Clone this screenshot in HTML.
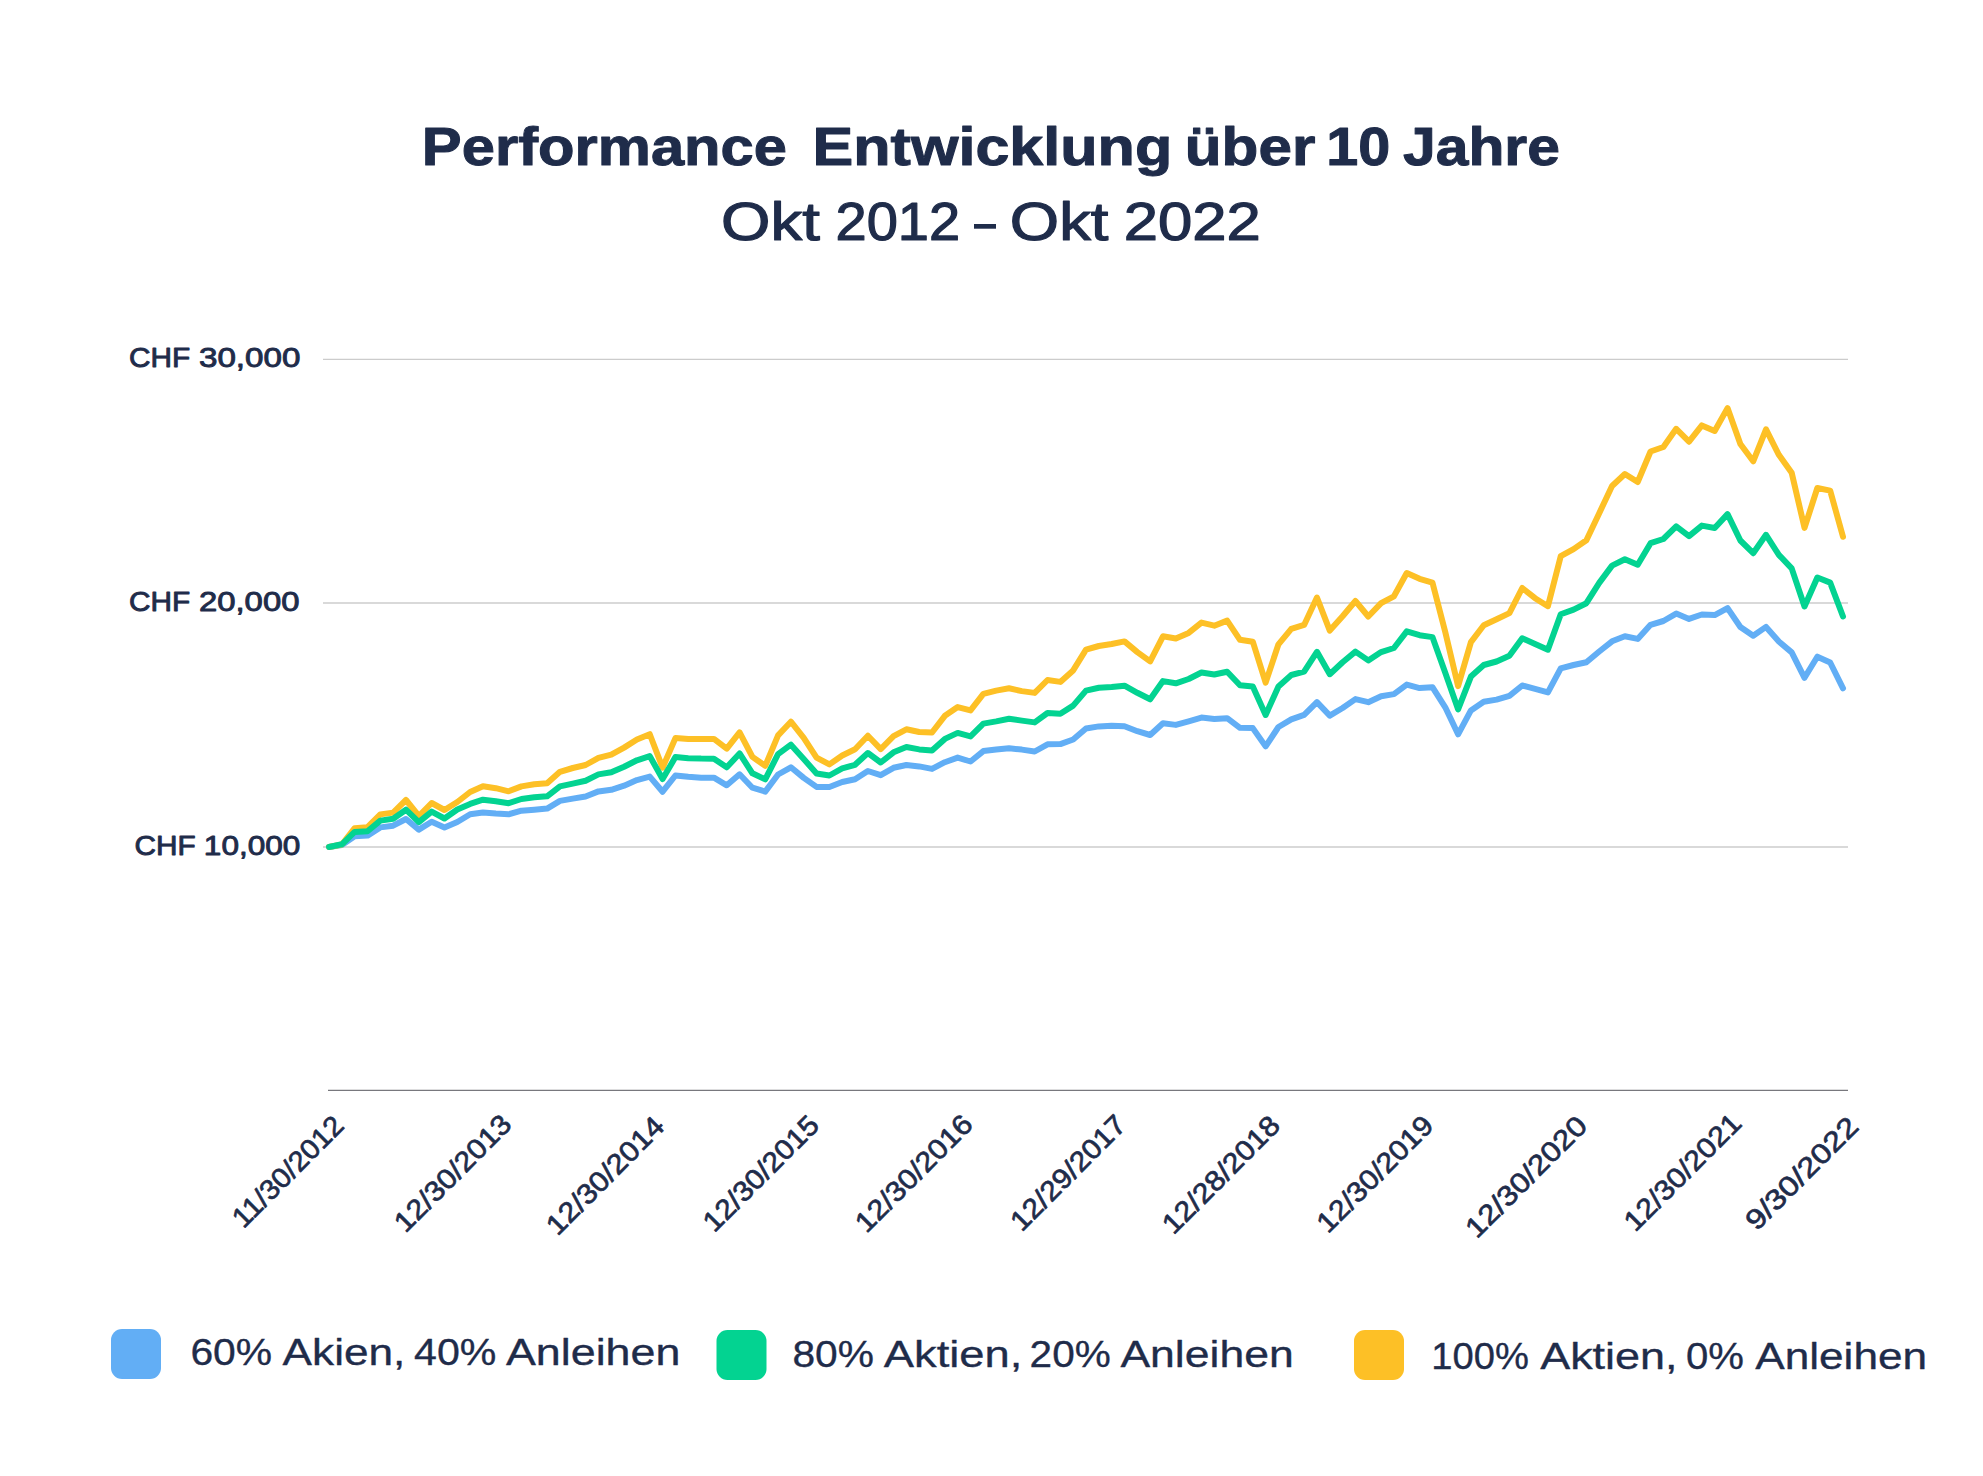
<!DOCTYPE html><html><head><meta charset="utf-8"><title>Performance Entwicklung</title>
<style>html,body{margin:0;padding:0;background:#fff;}svg{display:block;}text{font-family:"Liberation Sans",sans-serif;}</style></head><body>
<svg width="1983" height="1476" viewBox="0 0 1983 1476">
<rect width="1983" height="1476" fill="#ffffff"/>
<line x1="323" y1="359.4" x2="1848" y2="359.4" stroke="#cccccc" stroke-width="1.3"/>
<line x1="323" y1="603" x2="1848" y2="603" stroke="#cccccc" stroke-width="1.3"/>
<line x1="323" y1="847" x2="1848" y2="847" stroke="#cccccc" stroke-width="1.3"/>
<line x1="328" y1="1090.4" x2="1848" y2="1090.4" stroke="#78787d" stroke-width="1.3"/>
<polyline points="329,847 341.83,845 354.66,836.3 367.49,835.6 380.32,827.4 393.15,825.7 405.98,819 418.81,829.6 431.64,821.7 444.47,827.4 457.31,822 470.14,814.3 482.97,812.5 495.8,813.6 508.63,814.3 521.46,810.7 534.29,809.7 547.12,808.6 559.95,800.9 572.78,798.6 585.61,796.5 598.44,791.4 611.27,789.8 624.1,785.7 636.93,780.1 649.76,776.6 662.59,791.7 675.42,775.5 688.25,776.8 701.08,777.8 713.92,777.7 726.75,785.3 739.58,774.3 752.41,787.7 765.24,791.6 778.07,774.5 790.9,767.3 803.73,777.9 816.56,786.9 829.39,787 842.22,782 855.05,779.3 867.88,771 880.71,775.2 893.54,767.8 906.37,765 919.2,766.4 932.03,768.9 944.86,762.2 957.69,757.6 970.53,761.5 983.36,751.1 996.19,749.6 1009.02,748.2 1021.85,749.6 1034.68,751.5 1047.51,744.3 1060.34,744.1 1073.17,739.5 1086,728.5 1098.83,726.4 1111.66,725.7 1124.49,726.3 1137.32,731.2 1150.15,735 1162.98,723.2 1175.81,724.9 1188.64,721.3 1201.47,717.6 1214.31,719 1227.14,718.2 1239.97,727.8 1252.8,728.1 1265.63,746.4 1278.46,727 1291.29,719.4 1304.12,714.9 1316.95,702.1 1329.78,715.6 1342.61,708 1355.44,699.1 1368.27,702.2 1381.1,696.2 1393.93,694.1 1406.76,684.6 1419.59,688.1 1432.42,687.2 1445.25,707.3 1458.08,734.3 1470.92,710.4 1483.75,701.8 1496.58,699.6 1509.41,695.8 1522.24,685.5 1535.07,688.9 1547.9,692.4 1560.73,668.3 1573.56,665 1586.39,662.2 1599.22,651.5 1612.05,641.3 1624.88,636.3 1637.71,638.9 1650.54,624.8 1663.37,621 1676.2,613.6 1689.03,618.9 1701.86,614.5 1714.69,615.1 1727.53,608.1 1740.36,627 1753.19,635.8 1766.02,626.9 1778.85,641.5 1791.68,652.4 1804.51,677.8 1817.34,656.7 1830.17,662.5 1843,688.3" fill="none" stroke="#62aef5" stroke-width="6" stroke-linejoin="round" stroke-linecap="round"/>
<polyline points="329,847 341.83,844.5 354.66,828.2 367.49,827.2 380.32,814.4 393.15,812.6 405.98,800 418.81,816 431.64,803 444.47,810 457.31,802 470.14,792 482.97,786.3 495.8,788.2 508.63,791.3 521.46,786.4 534.29,784.3 547.12,783.2 559.95,771.8 572.78,768 585.61,765 598.44,757.9 611.27,754.7 624.1,747.6 636.93,739.5 649.76,734.2 662.59,767.7 675.42,738.1 688.25,739.1 701.08,739.1 713.92,738.9 726.75,748.6 739.58,732.3 752.41,756.9 765.24,765.9 778.07,735.4 790.9,721.7 803.73,737.8 816.56,757.6 829.39,764.4 842.22,755.5 855.05,749.3 867.88,735.7 880.71,749.1 893.54,736.2 906.37,729.3 919.2,732 932.03,732.5 944.86,715.8 957.69,707.1 970.53,710.4 983.36,693.9 996.19,690.6 1009.02,688.3 1021.85,691.1 1034.68,692.9 1047.51,680 1060.34,681.9 1073.17,670.4 1086,649.7 1098.83,646 1111.66,644 1124.49,641.4 1137.32,652.1 1150.15,661.4 1162.98,636.3 1175.81,638.5 1188.64,632.9 1201.47,622.6 1214.31,625.7 1227.14,620.6 1239.97,639.8 1252.8,641.7 1265.63,682.6 1278.46,644.3 1291.29,628.8 1304.12,624.9 1316.95,597.5 1329.78,630.6 1342.61,616.3 1355.44,601 1368.27,616.5 1381.1,603.2 1393.93,596.3 1406.76,573 1419.59,578.8 1432.42,582.6 1445.25,632 1458.08,686.1 1470.92,642.1 1483.75,625.2 1496.58,619.2 1509.41,613.1 1522.24,588 1535.07,598.2 1547.9,606.2 1560.73,556.2 1573.56,549.1 1586.39,540.2 1599.22,513.2 1612.05,486 1624.88,474 1637.71,482 1650.54,451.5 1663.37,447 1676.2,428.8 1689.03,441.7 1701.86,425.4 1714.69,431 1727.53,408.1 1740.36,444 1753.19,461.3 1766.02,429.3 1778.85,454.8 1791.68,472.7 1804.51,527.9 1817.34,488 1830.17,490.6 1843,536.8" fill="none" stroke="#fdc026" stroke-width="6" stroke-linejoin="round" stroke-linecap="round"/>
<polyline points="329,847 341.83,844.3 354.66,831.9 367.49,831.2 380.32,820.6 393.15,818.8 405.98,809.7 418.81,822.1 431.64,811.6 444.47,818.5 457.31,809.5 470.14,803.9 482.97,799.7 495.8,801.2 508.63,803.2 521.46,799 534.29,797.3 547.12,796.3 559.95,786.4 572.78,783.6 585.61,780.7 598.44,774.4 611.27,772.3 624.1,766.7 636.93,760.3 649.76,756.1 662.59,779 675.42,757.1 688.25,758.2 701.08,758.6 713.92,758.7 726.75,767.3 739.58,753.5 752.41,773.3 765.24,779.3 778.07,754.1 790.9,744.7 803.73,759 816.56,773.5 829.39,775.5 842.22,768.4 855.05,764.8 867.88,753 880.71,762.5 893.54,752.3 906.37,747 919.2,749.4 932.03,750.5 944.86,738.9 957.69,732.9 970.53,736.4 983.36,723.6 996.19,721.4 1009.02,718.7 1021.85,720.6 1034.68,722.4 1047.51,713 1060.34,713.7 1073.17,705.6 1086,690.6 1098.83,687.7 1111.66,687 1124.49,685.7 1137.32,692.8 1150.15,699.3 1162.98,681.1 1175.81,683.3 1188.64,679 1201.47,672.5 1214.31,674.5 1227.14,671.7 1239.97,685.3 1252.8,686.4 1265.63,715 1278.46,686.4 1291.29,675 1304.12,671.7 1316.95,651.8 1329.78,674.2 1342.61,662.2 1355.44,651.6 1368.27,660.4 1381.1,652.1 1393.93,648 1406.76,631.3 1419.59,635.2 1432.42,637.1 1445.25,672.8 1458.08,709.3 1470.92,676.6 1483.75,665 1496.58,661.5 1509.41,655.8 1522.24,638.3 1535.07,643.9 1547.9,649.7 1560.73,614.2 1573.56,609.6 1586.39,603.2 1599.22,582.9 1612.05,565.6 1624.88,559.2 1637.71,564.7 1650.54,543.2 1663.37,539 1676.2,526.4 1689.03,536.1 1701.86,525.6 1714.69,528 1727.53,514.1 1740.36,540.5 1753.19,553.2 1766.02,534.8 1778.85,554.9 1791.68,568.4 1804.51,606.5 1817.34,577.5 1830.17,582.6 1843,616.5" fill="none" stroke="#03d391" stroke-width="6" stroke-linejoin="round" stroke-linecap="round"/>
<rect x="111" y="1329" width="50" height="50" rx="11" fill="#62aef5"/>
<rect x="716.5" y="1330" width="50" height="50" rx="11" fill="#03d391"/>
<rect x="1354" y="1330" width="50" height="50" rx="11" fill="#fdc026"/>
<rect x="974" y="224" width="22" height="4.7" fill="#1f2c4a"/>
<text x="421.85" y="164.9" font-size="53.6" font-weight="700" fill="#1f2c4a" stroke="#1f2c4a" stroke-width="1.0" stroke-linejoin="round" textLength="365.21" lengthAdjust="spacingAndGlyphs">Performance</text>
<text x="812.58" y="164.9" font-size="53.6" font-weight="700" fill="#1f2c4a" stroke="#1f2c4a" stroke-width="1.0" stroke-linejoin="round" textLength="359.61" lengthAdjust="spacingAndGlyphs">Entwicklung</text>
<text x="1184.83" y="164.9" font-size="53.6" font-weight="700" fill="#1f2c4a" stroke="#1f2c4a" stroke-width="1.0" stroke-linejoin="round" textLength="130.53" lengthAdjust="spacingAndGlyphs">über</text>
<text x="1326.16" y="164.9" font-size="53.6" font-weight="700" fill="#1f2c4a" stroke="#1f2c4a" stroke-width="1.0" stroke-linejoin="round" textLength="63.99" lengthAdjust="spacingAndGlyphs">10</text>
<text x="1403" y="164.9" font-size="53.6" font-weight="700" fill="#1f2c4a" stroke="#1f2c4a" stroke-width="1.0" stroke-linejoin="round" textLength="156.92" lengthAdjust="spacingAndGlyphs">Jahre</text>
<text x="721.02" y="240.2" font-size="53.5" font-weight="400" fill="#1f2c4a" stroke="#1f2c4a" stroke-width="1.2" stroke-linejoin="round" textLength="98.86" lengthAdjust="spacingAndGlyphs">Okt</text>
<text x="835.5" y="240.2" font-size="53.5" font-weight="400" fill="#1f2c4a" stroke="#1f2c4a" stroke-width="1.2" stroke-linejoin="round" textLength="124.63" lengthAdjust="spacingAndGlyphs">2012</text>
<text x="1009.82" y="240.2" font-size="53.5" font-weight="400" fill="#1f2c4a" stroke="#1f2c4a" stroke-width="1.2" stroke-linejoin="round" textLength="98.67" lengthAdjust="spacingAndGlyphs">Okt</text>
<text x="1123.69" y="240.2" font-size="53.5" font-weight="400" fill="#1f2c4a" stroke="#1f2c4a" stroke-width="1.2" stroke-linejoin="round" textLength="137.05" lengthAdjust="spacingAndGlyphs">2022</text>
<text x="129.09" y="367.45" font-size="27.3" font-weight="400" fill="#1f2c4a" stroke="#1f2c4a" stroke-width="0.9" stroke-linejoin="round" textLength="61.24" lengthAdjust="spacingAndGlyphs">CHF</text>
<text x="198.98" y="367.45" font-size="27.3" font-weight="400" fill="#1f2c4a" stroke="#1f2c4a" stroke-width="0.9" stroke-linejoin="round" textLength="101.43" lengthAdjust="spacingAndGlyphs">30,000</text>
<text x="129.09" y="611.45" font-size="27.3" font-weight="400" fill="#1f2c4a" stroke="#1f2c4a" stroke-width="0.9" stroke-linejoin="round" textLength="61.24" lengthAdjust="spacingAndGlyphs">CHF</text>
<text x="198.99" y="611.45" font-size="27.3" font-weight="400" fill="#1f2c4a" stroke="#1f2c4a" stroke-width="0.9" stroke-linejoin="round" textLength="100.42" lengthAdjust="spacingAndGlyphs">20,000</text>
<text x="134.5" y="855.45" font-size="27.3" font-weight="400" fill="#1f2c4a" stroke="#1f2c4a" stroke-width="0.9" stroke-linejoin="round" textLength="61.22" lengthAdjust="spacingAndGlyphs">CHF</text>
<text x="203.88" y="855.45" font-size="27.3" font-weight="400" fill="#1f2c4a" stroke="#1f2c4a" stroke-width="0.9" stroke-linejoin="round" textLength="96.5" lengthAdjust="spacingAndGlyphs">10,000</text>
<text x="190.41" y="1364.62" font-size="37.5" font-weight="400" fill="#1f2c4a" stroke="#1f2c4a" stroke-width="0.35" stroke-linejoin="round" textLength="81.76" lengthAdjust="spacingAndGlyphs">60%</text>
<text x="282.6" y="1364.62" font-size="37.5" font-weight="400" fill="#1f2c4a" stroke="#1f2c4a" stroke-width="0.35" stroke-linejoin="round" textLength="122.81" lengthAdjust="spacingAndGlyphs">Akien,</text>
<text x="414.1" y="1364.62" font-size="37.5" font-weight="400" fill="#1f2c4a" stroke="#1f2c4a" stroke-width="0.35" stroke-linejoin="round" textLength="82.29" lengthAdjust="spacingAndGlyphs">40%</text>
<text x="505.99" y="1364.62" font-size="37.5" font-weight="400" fill="#1f2c4a" stroke="#1f2c4a" stroke-width="0.35" stroke-linejoin="round" textLength="174.37" lengthAdjust="spacingAndGlyphs">Anleihen</text>
<text x="792.42" y="1366.62" font-size="37.5" font-weight="400" fill="#1f2c4a" stroke="#1f2c4a" stroke-width="0.35" stroke-linejoin="round" textLength="81.53" lengthAdjust="spacingAndGlyphs">80%</text>
<text x="883.8" y="1366.62" font-size="37.5" font-weight="400" fill="#1f2c4a" stroke="#1f2c4a" stroke-width="0.35" stroke-linejoin="round" textLength="138.62" lengthAdjust="spacingAndGlyphs">Aktien,</text>
<text x="1029.63" y="1366.62" font-size="37.5" font-weight="400" fill="#1f2c4a" stroke="#1f2c4a" stroke-width="0.35" stroke-linejoin="round" textLength="81.12" lengthAdjust="spacingAndGlyphs">20%</text>
<text x="1120.4" y="1366.62" font-size="37.5" font-weight="400" fill="#1f2c4a" stroke="#1f2c4a" stroke-width="0.35" stroke-linejoin="round" textLength="173.34" lengthAdjust="spacingAndGlyphs">Anleihen</text>
<text x="1431.34" y="1368.62" font-size="37.5" font-weight="400" fill="#1f2c4a" stroke="#1f2c4a" stroke-width="0.35" stroke-linejoin="round" textLength="97.61" lengthAdjust="spacingAndGlyphs">100%</text>
<text x="1540.2" y="1368.62" font-size="37.5" font-weight="400" fill="#1f2c4a" stroke="#1f2c4a" stroke-width="0.35" stroke-linejoin="round" textLength="137.39" lengthAdjust="spacingAndGlyphs">Aktien,</text>
<text x="1685.92" y="1368.62" font-size="37.5" font-weight="400" fill="#1f2c4a" stroke="#1f2c4a" stroke-width="0.35" stroke-linejoin="round" textLength="57.98" lengthAdjust="spacingAndGlyphs">0%</text>
<text x="1755.2" y="1368.62" font-size="37.5" font-weight="400" fill="#1f2c4a" stroke="#1f2c4a" stroke-width="0.35" stroke-linejoin="round" textLength="171.92" lengthAdjust="spacingAndGlyphs">Anleihen</text>
<text x="0" y="0" transform="translate(345.4 1127.25) rotate(-45)" text-anchor="end" font-size="28" font-weight="400" fill="#1f2c4a" stroke="#1f2c4a" stroke-width="0.7" stroke-linejoin="round" textLength="144.13" lengthAdjust="spacingAndGlyphs">11/30/2012</text>
<text x="0" y="0" transform="translate(513.35 1125.9) rotate(-45)" text-anchor="end" font-size="28" font-weight="400" fill="#1f2c4a" stroke="#1f2c4a" stroke-width="0.7" stroke-linejoin="round" textLength="152.41" lengthAdjust="spacingAndGlyphs">12/30/2013</text>
<text x="0" y="0" transform="translate(666.2 1127.95) rotate(-45)" text-anchor="end" font-size="28" font-weight="400" fill="#1f2c4a" stroke="#1f2c4a" stroke-width="0.7" stroke-linejoin="round" textLength="153.75" lengthAdjust="spacingAndGlyphs">12/30/2014</text>
<text x="0" y="0" transform="translate(820.8 1126.9) rotate(-45)" text-anchor="end" font-size="28" font-weight="400" fill="#1f2c4a" stroke="#1f2c4a" stroke-width="0.7" stroke-linejoin="round" textLength="150.53" lengthAdjust="spacingAndGlyphs">12/30/2015</text>
<text x="0" y="0" transform="translate(974.4 1126.1) rotate(-45)" text-anchor="end" font-size="28" font-weight="400" fill="#1f2c4a" stroke="#1f2c4a" stroke-width="0.7" stroke-linejoin="round" textLength="152.56" lengthAdjust="spacingAndGlyphs">12/30/2016</text>
<text x="0" y="0" transform="translate(1127.8 1126.45) rotate(-45)" text-anchor="end" font-size="28" font-weight="400" fill="#1f2c4a" stroke="#1f2c4a" stroke-width="0.7" stroke-linejoin="round" textLength="149.95" lengthAdjust="spacingAndGlyphs">12/29/2017</text>
<text x="0" y="0" transform="translate(1281.9 1127.15) rotate(-45)" text-anchor="end" font-size="28" font-weight="400" fill="#1f2c4a" stroke="#1f2c4a" stroke-width="0.7" stroke-linejoin="round" textLength="153.28" lengthAdjust="spacingAndGlyphs">12/28/2018</text>
<text x="0" y="0" transform="translate(1435.15 1127.2) rotate(-45)" text-anchor="end" font-size="28" font-weight="400" fill="#1f2c4a" stroke="#1f2c4a" stroke-width="0.7" stroke-linejoin="round" textLength="151.4" lengthAdjust="spacingAndGlyphs">12/30/2019</text>
<text x="0" y="0" transform="translate(1588.9 1127.5) rotate(-45)" text-anchor="end" font-size="28" font-weight="400" fill="#1f2c4a" stroke="#1f2c4a" stroke-width="0.7" stroke-linejoin="round" textLength="158.49" lengthAdjust="spacingAndGlyphs">12/30/2020</text>
<text x="0" y="0" transform="translate(1743.2 1124.9) rotate(-45)" text-anchor="end" font-size="28" font-weight="400" fill="#1f2c4a" stroke="#1f2c4a" stroke-width="0.7" stroke-linejoin="round" textLength="152.56" lengthAdjust="spacingAndGlyphs">12/30/2021</text>
<text x="0" y="0" transform="translate(1860.25 1128.25) rotate(-45)" text-anchor="end" font-size="28" font-weight="400" fill="#1f2c4a" stroke="#1f2c4a" stroke-width="0.7" stroke-linejoin="round" textLength="146.47" lengthAdjust="spacingAndGlyphs">9/30/2022</text>
</svg></body></html>
